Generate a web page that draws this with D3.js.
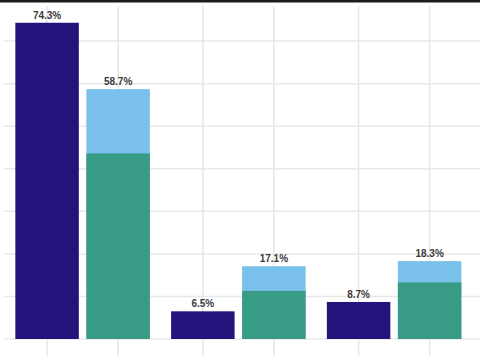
<!DOCTYPE html>
<html>
<head>
<meta charset="utf-8">
<script src="https://cdn.jsdelivr.net/npm/d3@7"></script>
<style>
  body { margin: 0; background: #fff; }
  svg { display: block; }
</style>
</head>
<body>
<svg width="480" height="360"></svg>
<script>
// chart data
const groups = ['Group 1', 'Group 2', 'Group 3'];
const navyValues = [74.3, 6.5, 8.7];
const tealValues = [43.6, 11.3, 13.3];
const totalValues = [58.7, 17.1, 18.3];
const yTicks = [10, 20, 30, 40, 50, 60, 70];

const svg = d3.select('svg');
const width = 480, height = 360;
const baseY = 339;

const y = d3.scaleLinear().domain([0, 80]).range([baseY, -1.5]);
const x0 = d3.scaleBand().domain(groups).range([4.75, 472]).padding(0);
const x1 = d3.scaleBand().domain(['single', 'stack'])
  .range([10.6, 145.1]).paddingInner(0.106).paddingOuter(0);

const centers = [];
groups.forEach(g => {
  ['single', 'stack'].forEach(k => centers.push(x0(g) + x1(k) + x1.bandwidth() / 2));
});

// horizontal gridlines
svg.append('g').selectAll('line')
  .data(yTicks)
  .enter()
  .append('line')
  .attr('x1', 4).attr('x2', width)
  .attr('y1', d => y(d)).attr('y2', d => y(d))
  .attr('stroke', '#e8e8e8')
  .attr('stroke-width', 1.5);

// vertical gridlines (continue below baseline as ticks)
svg.append('g').selectAll('line')
  .data(centers)
  .enter()
  .append('line')
  .attr('x1', d => d).attr('x2', d => d)
  .attr('y1', 6).attr('y2', 356)
  .attr('stroke', '#e6e6e6')
  .attr('stroke-width', 1.5);

// baseline
svg.append('line')
  .attr('x1', 4).attr('x2', width)
  .attr('y1', y(0)).attr('y2', y(0))
  .attr('stroke', '#e8e8e8')
  .attr('stroke-width', 1.5);

const g = svg.append('g');

groups.forEach((grp, i) => {
  const gx = x0(grp);
  // single navy bar
  g.append('rect')
    .attr('x', gx + x1('single'))
    .attr('y', y(navyValues[i]))
    .attr('width', x1.bandwidth())
    .attr('height', y(0) - y(navyValues[i]))
    .attr('fill', '#25127a');
  // stacked bar: light blue total, teal bottom
  g.append('rect')
    .attr('x', gx + x1('stack'))
    .attr('y', y(totalValues[i]))
    .attr('width', x1.bandwidth())
    .attr('height', y(0) - y(totalValues[i]))
    .attr('fill', '#79c1ea');
  g.append('rect')
    .attr('x', gx + x1('stack'))
    .attr('y', y(tealValues[i]))
    .attr('width', x1.bandwidth())
    .attr('height', y(0) - y(tealValues[i]))
    .attr('fill', '#389b86');

  // value labels
  [['single', navyValues[i]], ['stack', totalValues[i]]].forEach(([k, v]) => {
    g.append('text')
      .attr('x', gx + x1(k) + x1.bandwidth() / 2)
      .attr('y', y(v) - 4)
      .attr('text-anchor', 'middle')
      .attr('font-family', 'Liberation Sans, Arial, sans-serif')
      .attr('font-size', 10)
      .attr('font-weight', 'bold')
      .attr('fill', '#3a3a3a')
      .text(v.toFixed(1) + '%');
  });
});

// dark band across the top edge
svg.append('rect')
  .attr('x', 0).attr('y', 0)
  .attr('width', width).attr('height', 2.5)
  .attr('fill', '#1c1c1c');
</script>
</body>
</html>
